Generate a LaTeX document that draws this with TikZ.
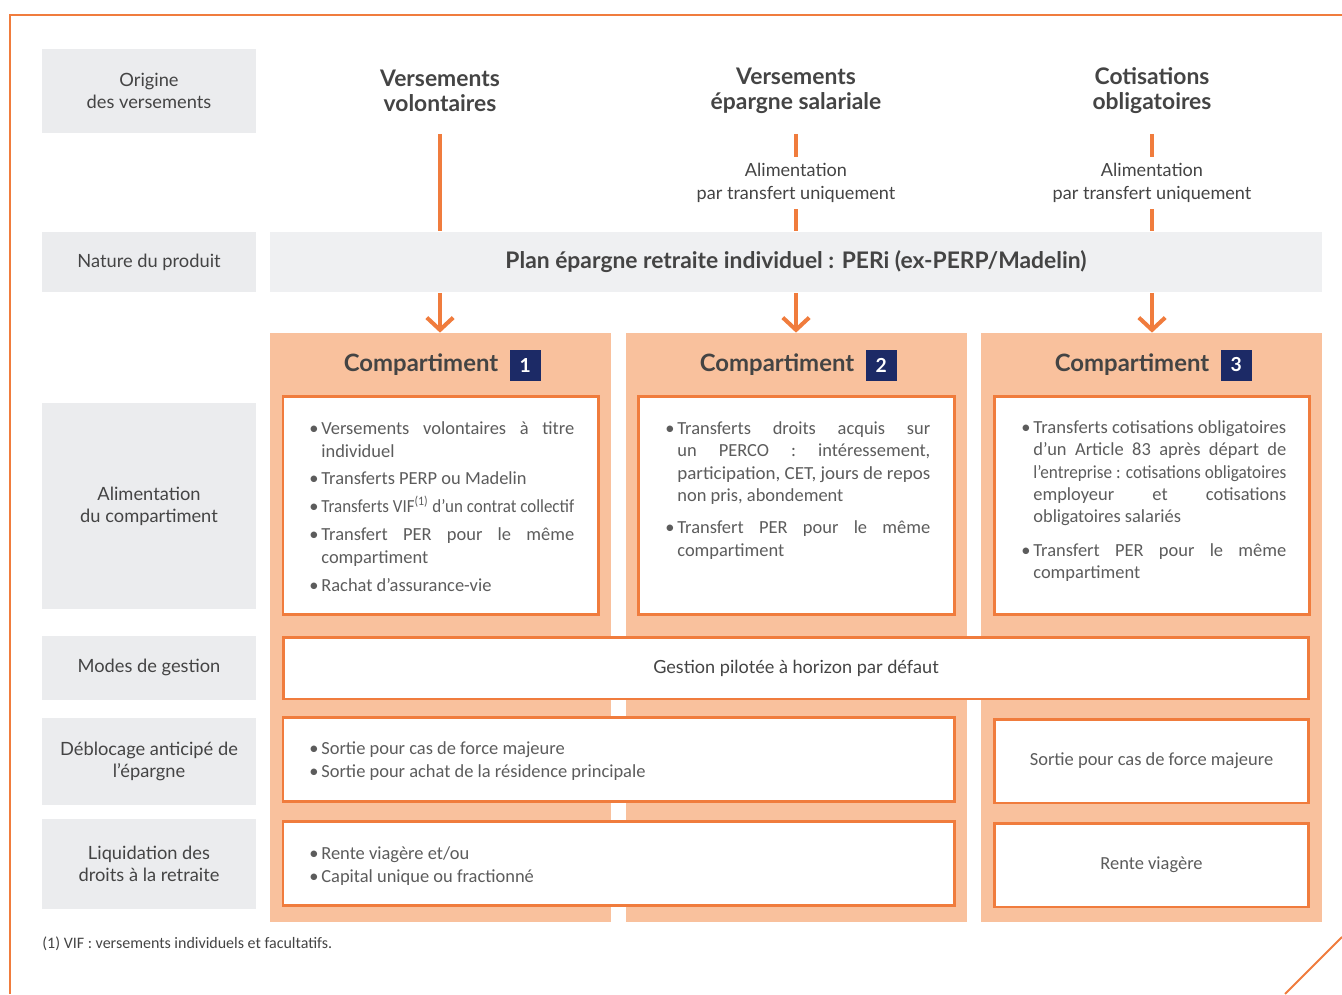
\documentclass[tikz,border=0pt]{standalone}
\usepackage{fontspec}
\setmainfont{Lato}
\newfontfamily\corpsfont{Carlito}
\usepackage{graphicx}
\usetikzlibrary{positioning,fit,arrows.meta}
\definecolor{orangeper}{RGB}{240,124,61}
\definecolor{peche}{RGB}{249,193,157}
\definecolor{grislabel}{RGB}{235,236,238}
\definecolor{grisbande}{RGB}{239,240,242}
\definecolor{marine}{RGB}{28,42,102}
\definecolor{textefonce}{RGB}{68,68,68}
\definecolor{textegris}{RGB}{92,92,92}
\newcommand{\puce}{\leavevmode\llap{\makebox[0.24cm][l]{•}}}
\newcommand{\serre}[1]{\resizebox{5.06cm}{\height}{#1}}
\newcommand{\bloc}[2]{\parbox[t]{#1}{\hyphenpenalty=10000\relax\strut #2}}
\tikzstyle{cadre} = [orangeper, line width=1.1pt]
\tikzstyle{flux} = [orangeper, line width=2.3pt]
\tikzstyle{fluxfleche} = [flux, -{Straight Barb[length=7pt,width=15pt]}]
\tikzstyle{etiquette} = [fill=grislabel, inner sep=0pt, minimum width=4.28cm, align=center, text=textefonce, font=\fontsize{10.4}{12.5}\selectfont]
\tikzstyle{entete} = [align=center, text=textefonce, font=\bfseries\fontsize{13}{14.2}\selectfont]
\tikzstyle{transfert} = [align=center, inner sep=0pt, minimum height=1.04cm, text=textefonce, font=\fontsize{10.3}{13}\selectfont]
\tikzstyle{bande} = [fill=grisbande, inner sep=0pt, text=textefonce, font=\bfseries\fontsize{13}{14}\selectfont]
\tikzstyle{colonne} = [fill=peche, inner sep=0pt]
\tikzstyle{titre} = [inner sep=0pt, text=textefonce, font=\bfseries\fontsize{13.6}{14}\selectfont]
\tikzstyle{numbox} = [fill=marine, text=white, minimum size=0.62cm, inner sep=0pt, font=\bfseries\fontsize{11}{11}\selectfont]
\tikzstyle{boite} = [draw=orangeper, line width=1.7pt, fill=white, inner sep=0pt]
\tikzstyle{corps} = [inner sep=0pt, anchor=north west, text=textegris, font=\corpsfont\fontsize{10.5}{13}\selectfont]
\begin{document}
\begin{tikzpicture}[x=0.02cm, y=-0.02cm]
	\useasboundingbox (0,0) rectangle (1342,994);
	% cadre
	\draw[cadre] (10,994) -- (10,15) -- (1342,15);
	\draw[cadre] (1285,994) -- (1342,937);

	% colonne des rubriques
	\node[etiquette, minimum height=1.70cm] (origine) at (149,91) {Origine\\des versements};
	\node[etiquette, minimum height=1.22cm] (nature) at (149,262) {Nature du produit};
	\node[etiquette, minimum height=4.14cm] (alimentation) at (149,506) {Alimentation\\du compartiment};
	\node[etiquette, minimum height=1.28cm] (modes) at (149,667.5) {Modes de gestion};
	\node[etiquette, minimum height=1.74cm] (deblocage) at (149,761) {Déblocage anticipé de\\l’épargne};
	\node[etiquette, minimum height=1.80cm] (liquidation) at (149,863.5) {Liquidation des\\droits à la retraite};

	% origine des versements
	\node[entete] (vol) at (440,91) {Versements\\volontaires};
	\node[entete] (sal) at (796,91) {Versements\\épargne salariale};
	\node[entete] (oblig) at (1152,91) {Cotisations\\obligatoires};
	\node[transfert] (alim2) at (796,183) {Alimentation\\par transfert uniquement};
	\node[transfert] (alim3) at (1152,183) {Alimentation\\par transfert uniquement};

	\node[bande, minimum width=21.04cm, minimum height=1.22cm] (plan) at (796,262) {Plan épargne retraite individuel : PERi (ex-PERP/Madelin)};

	% compartiments
	\node[colonne, fit={(270,333) (611,922)}] (comp1) {};
	\node[colonne, fit={(626,333) (967,922)}] (comp2) {};
	\node[colonne, fit={(981,333) (1322,922)}] (comp3) {};
	\node[titre] (titre1) at (421,365) {Compartiment};
	\node[numbox, right=0.22cm of titre1] (num1) {1};
	\node[titre] (titre2) at (777,365) {Compartiment};
	\node[numbox, right=0.22cm of titre2] (num2) {2};
	\node[titre] (titre3) at (1132,365) {Compartiment};
	\node[numbox, right=0.22cm of titre3] (num3) {3};

	% alimentation
	\node[boite, fit={(283,396) (598,614)}] (boite1) {};
	\node[boite, fit={(638,396) (954,614)}] (boite2) {};
	\node[boite, fit={(994,396) (1309,614)}] (boite3) {};
	\node[corps] (texte1) at (321,418) {\bloc{5.06cm}{\puce Versements volontaires à titre\linebreak individuel\\[2.8pt]\puce Transferts PERP ou Madelin\\[2.8pt]\puce \serre{Transferts VIF\textsuperscript{(1)} d’un contrat collectif}\\[2.8pt]\puce Transfert PER pour le même\linebreak compartiment\\[2.8pt]\puce Rachat d’assurance-vie}};
	\node[corps, font=\corpsfont\fontsize{10.5}{12.85}\selectfont] (texte2) at (677,418) {\bloc{5.06cm}{\puce Transferts droits acquis sur\linebreak un PERCO : intéressement,\linebreak \serre{participation, CET, jours de repos}\linebreak non pris, abondement\\[5.3pt]\puce Transfert PER pour le même\linebreak compartiment}};
	\node[corps, font=\corpsfont\fontsize{10.5}{12.6}\selectfont] (texte3) at (1033,418) {\bloc{5.06cm}{\puce \serre{Transferts cotisations obligatoires}\linebreak d’un Article 83 après départ de\linebreak \serre{l’entreprise : cotisations obligatoires}\linebreak employeur et cotisations\linebreak obligatoires salariés\\[6.7pt]\puce Transfert PER pour le même\linebreak compartiment}};

	% gestion, deblocage, liquidation
	\node[boite, minimum width=20.52cm, minimum height=1.24cm, text=textefonce, font=\fontsize{10.3}{12}\selectfont] (gestion) at (796,668) {Gestion pilotée à horizon par défaut};
	\node[boite, fit={(283,717) (954,801)}] (deblocage12) {};
	\node[corps] (textedeb) at (321,738) {\bloc{12cm}{\puce Sortie pour cas de force majeure\\\puce Sortie pour achat de la résidence principale}};
	\node[boite, minimum width=6.30cm, minimum height=1.68cm, text=textegris, font=\corpsfont\fontsize{10.5}{13}\selectfont] (deblocage3) at (1151.5,761) {Sortie pour cas de force majeure};
	\node[boite, fit={(283,821) (954,905)}] (liquidation12) {};
	\node[corps] (texteliq) at (321,843) {\bloc{12cm}{\puce Rente viagère et/ou\\\puce Capital unique ou fractionné}};
	\node[boite, minimum width=6.30cm, minimum height=1.68cm, text=textegris, font=\corpsfont\fontsize{10.5}{13}\selectfont] (liquidation3) at (1151.5,865) {Rente viagère};

	\node[anchor=west, inner sep=0pt, text=textefonce, font=\corpsfont\fontsize{9.1}{11}\selectfont] (renvoi) at (42,944) {(1) VIF : versements individuels et facultatifs.};

	% liaisons
	\draw[flux] (vol |- origine.south) -- (vol |- plan.north);
	\draw[flux] (sal |- origine.south) -- (alim2.north);
	\draw[flux] (alim2.south) -- (sal |- plan.north);
	\draw[flux] (oblig |- origine.south) -- (alim3.north);
	\draw[flux] (alim3.south) -- (oblig |- plan.north);
	\draw[fluxfleche] (vol |- plan.south) -- (vol |- comp1.north);
	\draw[fluxfleche] (sal |- plan.south) -- (sal |- comp2.north);
	\draw[fluxfleche] (oblig |- plan.south) -- (oblig |- comp3.north);
\end{tikzpicture}
\end{document}
